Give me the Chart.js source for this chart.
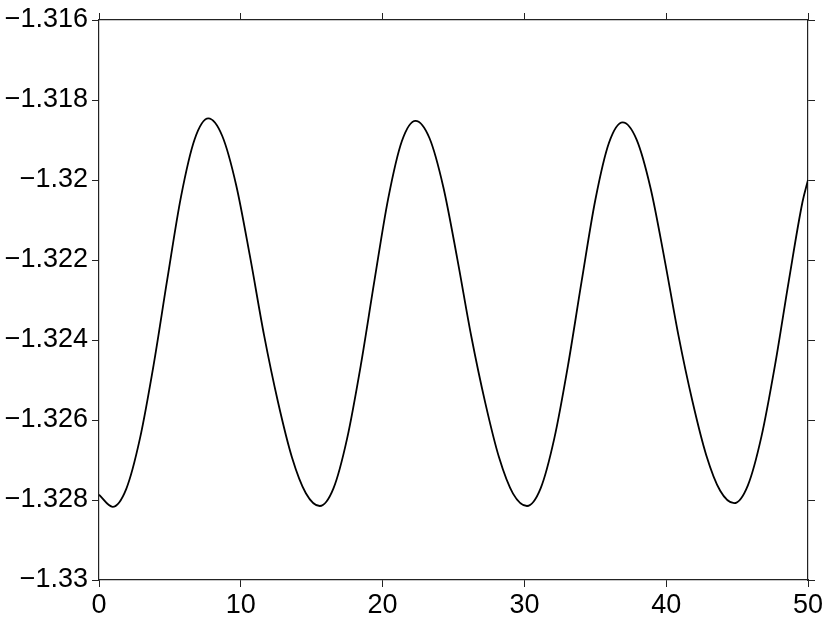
<!DOCTYPE html>
<html>
<head>
<meta charset="utf-8">
<title>Chart</title>
<script src="https://cdn.jsdelivr.net/npm/chart.js@4.4.1/dist/chart.umd.min.js"></script>
<style>
  html, body { margin: 0; padding: 0; background: #fff; }
  #wrap { width: 830px; height: 619px; }
</style>
</head>
<body>
<div id="wrap"><canvas id="mycanvas" width="830" height="619"></canvas></div>
<script>
// values (samples about 1 unit apart, landing on the peaks and troughs)
var xValues = [0, 0.96, 1.924, 2.889, 3.853, 4.817, 5.781, 6.746, 7.71,
    8.693, 9.675, 10.658, 11.64, 12.623, 13.605, 14.588, 15.57,
    16.534, 17.499, 18.463, 19.427, 20.391, 21.356, 22.32,
    23.303, 24.285, 25.268, 26.25, 27.233, 28.215, 29.198, 30.18,
    31.144, 32.109, 33.073, 34.037, 35.001, 35.966, 36.93,
    37.913, 38.895, 39.878, 40.86, 41.843, 42.825, 43.808, 44.79,
    45.754, 46.719, 47.683, 48.647, 49.611, 50];
var yValues = [-1.32787, -1.32817, -1.32772, -1.32646, -1.32462, -1.32248, -1.32042, -1.31898, -1.31846,
    -1.31890, -1.32013, -1.32193, -1.32388, -1.32555, -1.32693, -1.32783, -1.32815,
    -1.32771, -1.32646, -1.32463, -1.32251, -1.32047, -1.31903, -1.31852,
    -1.31895, -1.32018, -1.32197, -1.32390, -1.32556, -1.32694, -1.32784, -1.32815,
    -1.32771, -1.32646, -1.32464, -1.32253, -1.32050, -1.31907, -1.31856,
    -1.31899, -1.32020, -1.32197, -1.32388, -1.32552, -1.32688, -1.32777, -1.32808,
    -1.32764, -1.32641, -1.32461, -1.32252, -1.32055, -1.32000];
var xTicks = [0, 10, 20, 30, 40, 50];
var yTicks = [-1.33, -1.328, -1.326, -1.324, -1.322, -1.32, -1.318, -1.316];

var points = [];
for (var i in xValues) {
    points.push({ x: xValues[i], y: yValues[i] });
}

var axisColor = '#222';
var labelFont = { family: "'Liberation Sans', Arial, sans-serif", size: 27, lineHeight: 1 };

function fmt(v) {
    return Number(v.toFixed(3)).toString().replace('-', '\u2212');
}
function setTicks(list) {
    return function (scale) {
        scale.ticks = list.map(function (v) { return { value: v }; });
    };
}
function frameAxis(position, isX, showLabels, size) {
    return {
        type: 'linear',
        position: position,
        min: isX ? 0 : -1.33,
        max: isX ? 50 : -1.316,
        afterBuildTicks: setTicks(isX ? xTicks : yTicks),
        afterFit: function (scale) {
            if (isX) { scale.height = size; } else { scale.width = size; }
        },
        grid: {
            display: true,
            drawOnChartArea: false,
            drawTicks: true,
            tickLength: 7,
            tickWidth: 1,
            color: axisColor
        },
        border: { display: true, color: axisColor, width: 1.2 },
        ticks: {
            display: showLabels,
            color: '#000',
            font: labelFont,
            padding: isX ? 5 : 4,
            maxRotation: 0,
            autoSkip: false,
            callback: function (v) { return fmt(v); }
        }
    };
}

var ctx = document.getElementById('mycanvas');
var chart = new Chart(ctx, {
    type: 'line',
    data: {
        datasets: [
            {
                label: 'series',
                data: points,
                borderColor: '#000',
                borderWidth: 1.8,
                fill: false,
                pointRadius: 0,
                cubicInterpolationMode: 'monotone',
                xAxisID: 'x',
                yAxisID: 'y'
            }
        ]
    },
    options: {
        responsive: false,
        animation: false,
        layout: { padding: { top: 13, right: 15, left: 0, bottom: 0 } },
        plugins: {
            legend: { display: false },
            title: { display: false },
            tooltip: { enabled: false }
        },
        scales: {
            x: frameAxis('bottom', true, true, 39),
            x2: frameAxis('top', true, false, 7),
            y: frameAxis('left', false, true, 99),
            y2: frameAxis('right', false, false, 7)
        }
    }
});
</script>
</body>
</html>
